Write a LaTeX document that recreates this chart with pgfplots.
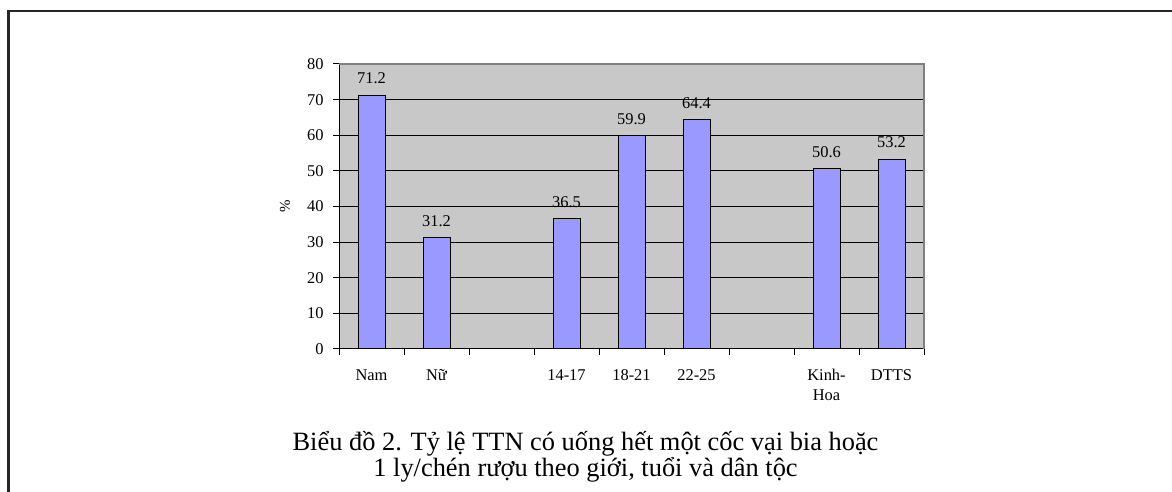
\documentclass[border=0pt]{standalone}
\usepackage{fontspec}
\setmainfont{Liberation Serif}
\usepackage{pgfplots}
\pgfplotsset{compat=1.18}
\definecolor{barblue}{RGB}{153,153,255}
\definecolor{plotgray}{RGB}{200,200,200}
\begin{document}
\begin{tikzpicture}[x=1bp,y=1bp]
\clip (0,0) rectangle (1172,492);
\fill[white] (0,0) rectangle (1172,492);
\draw[line width=2.2bp, black!85] (8.5,-20) -- (8.5,481) -- (1200,481);
\begin{axis}[
  at={(339bp,143bp)}, anchor=south west,
  scale only axis, width=585bp, height=285bp,
  xmin=-0.5, xmax=8.5, ymin=0, ymax=80,
  axis lines=left, axis line style={-, black, line width=1bp},
  axis background/.style={fill=plotgray},
  ytick={0,10,...,80},
  ymajorgrids, major grid style={black, line width=1bp},
  tick align=outside, major tick length=6bp,
  tick style={black, line width=1bp},
  xtick={-0.5,0.5,...,8.5}, xticklabels={},
  extra x ticks={0,1,2,3,4,5,6,7,8},
  extra x tick labels={Nam,Nữ,,14-17,18-21,22-25,,{Kinh-\\Hoa},DTTS},
  extra x tick style={major tick length=0pt, xticklabel style={align=center, yshift=-17bp, font=\fontsize{16.5}{20}\selectfont}},
  /pgf/number format/assume math mode=true,
  ticklabel style={font=\fontsize{16.5}{20}\selectfont},
  yticklabel style={xshift=-6bp},
  clip=false,
]
\addplot[ybar, bar width=27bp, fill=barblue, draw=black, line width=1bp,
  nodes near coords, point meta=explicit symbolic,
  nodes near coords style={anchor=base, yshift=11.5bp, font=\fontsize{16.5}{18}\selectfont, black}]
  coordinates {(0,71.2)[71.2] (1,31.2)[31.2] (3,36.5)[36.5] (4,59.9)[59.9] (5,64.4)[64.4] (7,50.6)[50.6] (8,53.2)[53.2]};
\draw[gray, line width=1.5bp] (axis cs:-0.5,80) -- (axis cs:8.5,80) -- (axis cs:8.5,0);
\node[rotate=90, anchor=center, font=\fontsize{15}{16}\selectfont] at ([xshift=-54bp]rel axis cs:0,0.5) {\%};
\end{axis}
\node[align=center, font=\fontsize{26.5}{26}\selectfont, anchor=center] at (585.5,35.5) {Biểu đồ 2. Tỷ lệ TTN có uống hết một cốc vại bia hoặc\\1 ly/chén rượu theo giới, tuổi và dân tộc};
\end{tikzpicture}
\end{document}
